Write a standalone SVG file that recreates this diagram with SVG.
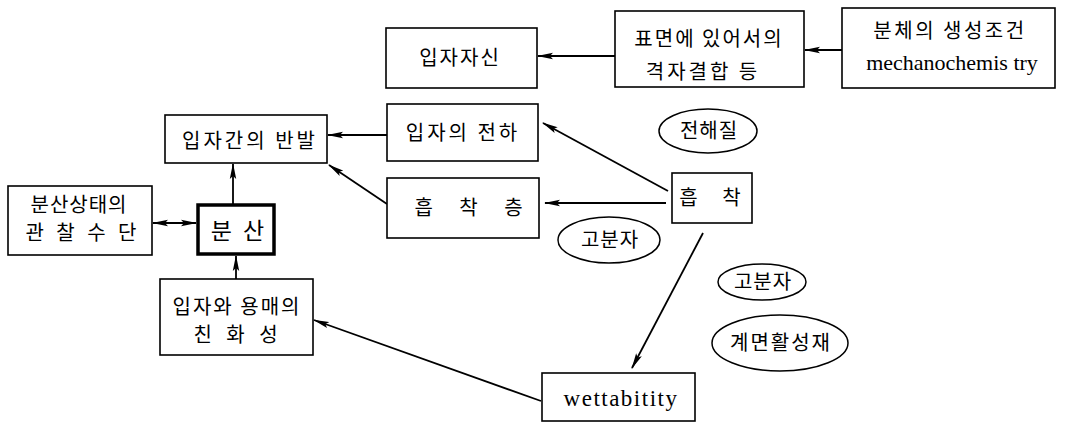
<svg xmlns="http://www.w3.org/2000/svg" width="1069" height="424" viewBox="0 0 1069 424">
<defs>
<marker id="ah" viewBox="0 0 16 8" refX="15" refY="4" markerWidth="16" markerHeight="8" markerUnits="userSpaceOnUse" orient="auto-start-reverse">
<path d="M0,0.8 L16,4 L0,7.2 L3,4 Z" fill="#000"/>
</marker>
</defs>
<style>
.box{fill:#fff;stroke:#000;stroke-width:1.6}
.thick{fill:#fff;stroke:#000;stroke-width:3.5}
.ell{fill:#fff;stroke:#000;stroke-width:1.5}
.kr{font-family:"Noto Sans CJK KR","Noto Sans",sans-serif;font-size:20px;fill:#000;text-anchor:middle}
.en{font-family:"Liberation Serif",serif;font-size:22px;fill:#000;text-anchor:middle}
.c{fill:none;stroke:#000;stroke-width:1.8;marker-end:url(#ah)}
</style>
<rect width="1069" height="424" fill="#fff"/>
<g id="connectors">
<line class="c" x1="615" y1="56" x2="538" y2="56"/>
<line class="c" x1="842" y1="50" x2="805" y2="50"/>
<line class="c" x1="387" y1="135" x2="328" y2="135"/>
<line class="c" x1="387" y1="204" x2="329" y2="165"/>
<line class="c" x1="668" y1="191" x2="543" y2="123"/>
<line class="c" x1="666" y1="203" x2="545" y2="203"/>
<line class="c" x1="703" y1="233" x2="632" y2="368"/>
<line class="c" x1="541" y1="401" x2="314" y2="320"/>
<line class="c" x1="233" y1="204" x2="233" y2="164"/>
<line class="c" x1="236" y1="279" x2="236" y2="256"/>
<line class="c" x1="153" y1="223" x2="196" y2="223" style="marker-start:url(#ah)"/>
</g>
<g id="n-self"><rect class="box" x="386" y="28" width="151" height="60"/><text class="kr" x="460" y="65" letter-spacing="2">입자자신</text></g>
<g id="n-surface"><rect class="box" x="615" y="11" width="189" height="76"/><text class="kr" x="709" y="46" letter-spacing="2">표면에 있어서의</text><text class="kr" x="703" y="79" letter-spacing="3">격자결합 등</text></g>
<g id="n-powder"><rect class="box" x="842" y="8" width="213" height="80"/><text class="kr" x="950" y="38" letter-spacing="2.5">분체의 생성조건</text><text class="en" x="952" y="70">mechanochemis try</text></g>
<g id="n-repulsion"><rect class="box" x="165" y="115" width="162" height="48"/><text class="kr" x="250" y="148" letter-spacing="3">입자간의 반발</text></g>
<g id="n-observe"><rect class="box" x="8" y="186" width="144" height="69"/><text class="kr" x="79" y="212" letter-spacing="1">분산상태의</text><text class="kr" x="83" y="240" letter-spacing="4">관 찰 수 단</text></g>
<g id="n-dispersion"><rect class="thick" x="198" y="205" width="76" height="49"/><text class="kr" x="239" y="239" style="font-size:23px" letter-spacing="3">분 산</text></g>
<g id="n-affinity"><rect class="box" x="160" y="279" width="153" height="76"/><text class="kr" x="237" y="314" letter-spacing="2">입자와 용매의</text><text class="kr" x="238" y="342" letter-spacing="5">친 화 성</text></g>
<g id="n-charge"><rect class="box" x="387" y="104" width="151" height="57"/><text class="kr" x="463" y="140" letter-spacing="3">입자의 전하</text></g>
<g id="n-layer"><rect class="box" x="387" y="178" width="152" height="60"/><text class="kr" x="474" y="215" letter-spacing="11">흡 착 층</text></g>
<g id="n-adsorption"><rect class="box" x="672" y="173" width="80" height="50"/><text class="kr" x="715" y="205" letter-spacing="10">흡 착</text></g>
<g id="n-wett"><rect class="box" x="542" y="373" width="153" height="48"/><text class="en" x="621" y="406" letter-spacing="1.5" style="font-size:23px">wettabitity</text></g>
<g id="e-electrolyte"><ellipse class="ell" cx="708" cy="131" rx="49" ry="22"/><text class="kr" x="709" y="138" letter-spacing="1">전해질</text></g>
<g id="e-polymer1"><ellipse class="ell" cx="609" cy="240" rx="51" ry="23"/><text class="kr" x="610" y="247" letter-spacing="1">고분자</text></g>
<g id="e-polymer2"><ellipse class="ell" cx="762" cy="282" rx="44" ry="18"/><text class="kr" x="763" y="289" letter-spacing="1">고분자</text></g>
<g id="e-surfactant"><ellipse class="ell" cx="780" cy="343" rx="68" ry="28"/><text class="kr" x="781" y="350" letter-spacing="2">계면활성재</text></g>
</svg>
